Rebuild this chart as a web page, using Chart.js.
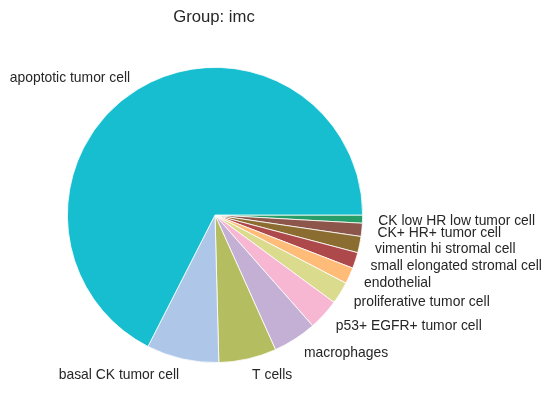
<!DOCTYPE html>
<html>
<head>
<meta charset="utf-8">
<script src="https://cdn.jsdelivr.net/npm/chart.js@4"></script>
<style>
  html, body { margin: 0; padding: 0; background: #fff; }
  #wrap { width: 552px; height: 411px; position: relative; }
</style>
</head>
<body>
<div id="wrap"><canvas id="pie" width="552" height="411"></canvas></div>
<script>
// cell types, in the order the slices are laid out (counter-clockwise from 3 o'clock)
const categories = [
    'apoptotic tumor cell',
    'basal CK tumor cell',
    'T cells',
    'macrophages',
    'p53+ EGFR+ tumor cell',
    'proliferative tumor cell',
    'endothelial',
    'small elongated stromal cell',
    'vimentin hi stromal cell',
    'CK+ HR+ tumor cell',
    'CK low HR low tumor cell'
];
// share of cells in percent
const shares = [67.5, 7.92, 6.31, 4.78, 3.42, 2.44, 1.78, 1.75, 1.78, 1.44, 0.89];
const sliceColors = [
    '#17becf', '#aec7e8', '#b5bd61', '#c5b0d5', '#f7b6d2', '#dbdb8d',
    '#ffbb78', '#ad494a', '#8c6d31', '#8c564b', '#279e68'
];
const titleText = 'Group: imc';

const FONT = '"Liberation Sans", Arial, sans-serif';
const TEXT_COLOR = '#262626';

// chart.js goes clockwise, so feed it reversed to get the same layout
const rev = (a) => a.slice().reverse();

// slice labels at 1.1 * radius, like matplotlib does
const sliceLabels = {
    id: 'sliceLabels',
    afterDatasetsDraw(chart) {
        const ctx = chart.ctx;
        const meta = chart.getDatasetMeta(0);
        const labels = chart.data.labels;
        ctx.save();
        ctx.font = '13.9px ' + FONT;
        ctx.fillStyle = TEXT_COLOR;
        ctx.textBaseline = 'middle';
        meta.data.forEach(function (arc, i) {
            let mid = (arc.startAngle + arc.endAngle) / 2;
            let r = arc.outerRadius * 1.1;
            let x = arc.x + Math.cos(mid) * r;
            let y = arc.y + Math.sin(mid) * r + 1.5;
            ctx.textAlign = Math.cos(mid) >= 0 ? 'left' : 'right';
            ctx.fillText(labels[i], x + (Math.cos(mid) >= 0 ? 1 : 0), y);
        });
        // title
        ctx.font = '16.7px ' + FONT;
        ctx.textAlign = 'center';
        ctx.textBaseline = 'alphabetic';
        ctx.fillText(titleText, 214, 22);
        ctx.restore();
    }
};

let ctx = document.getElementById('pie').getContext('2d');
let chart = new Chart(ctx, {
    type: 'pie',
    data: {
        labels: rev(categories),
        datasets: [{
            data: rev(shares),
            backgroundColor: rev(sliceColors),
            borderColor: '#ffffff',
            borderWidth: 0.8
        }]
    },
    options: {
        responsive: false,
        animation: false,
        rotation: 90,
        layout: { padding: { left: 67, top: 67, right: 189, bottom: 48 } },
        plugins: {
            legend: { display: false },
            tooltip: { enabled: false }
        }
    },
    plugins: [sliceLabels]
});
</script>
</body>
</html>
